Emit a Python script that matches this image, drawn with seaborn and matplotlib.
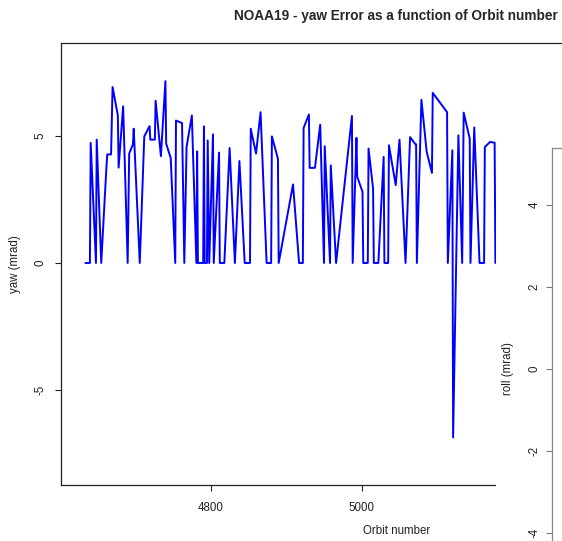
import numpy as np
import pandas as pd
import matplotlib
matplotlib.use("Agg")
import matplotlib.pyplot as plt
import seaborn as sns

# data

orbit = [4634, 4640, 4641, 4648, 4649, 4655, 4662, 4663, 4668, 4670,
         4677, 4678, 4684, 4690, 4692, 4697, 4698, 4706, 4712, 4719,
         4720, 4726, 4727, 4734, 4740, 4741, 4747, 4753, 4754, 4762,
         4765, 4768, 4775, 4781, 4782, 4783, 4790, 4791, 4792, 4795,
         4796, 4798, 4803, 4804, 4811, 4812, 4818, 4825, 4832, 4838,
         4845, 4852, 4853, 4860, 4866, 4874, 4880, 4881, 4889, 4890,
         4909, 4917, 4922, 4923, 4930, 4931, 4938, 4945, 4950, 4951,
         4958, 4959, 4966, 4987, 4988, 4993, 4994, 5001, 5002, 5008,
         5009, 5015, 5016, 5022, 5029, 5030, 5035, 5036, 5045, 5050,
         5058, 5064, 5071, 5072, 5073, 5079, 5086, 5093, 5094, 5113,
         5114, 5120, 5121, 5128, 5133, 5135, 5143, 5144, 5149, 5156,
         5162, 5163, 5170, 5176, 5177]

yaw = [0, 0, 4.72, 0, 4.85, 0, 3.84, 4.27, 4.27, 6.92,
       5.80, 3.75, 6.16, 0, 4.30, 4.67, 5.28, 0, 4.98, 5.38,
       4.85, 4.85, 6.38, 4.20, 7.15, 4.69, 4.13, 0, 5.60, 5.50,
       0, 4.56, 5.80, 0, 4.39, 0, 0, 5.37, 0, 0,
       4.82, 0, 5.06, 0, 4.34, 0, 0, 4.52, 0, 4.01,
       0, 0, 5.28, 4.30, 5.93, 0, 0, 4.98, 4.10, 0,
       3.09, 0, 0, 5.31, 5.84, 3.74, 3.74, 5.44, 0, 4.59,
       0, 3.84, 0, 5.78, 0, 4.92, 3.39, 2.80, 0, 0,
       4.50, 2.93, 0, 0, 4.17, 0, 0, 4.63, 3.06, 4.85,
       0, 4.95, 4.67, 4.67, 0, 6.42, 4.37, 3.54, 6.69, 5.93,
       0, 4.43, -6.86, 5.02, 0, 5.91, 4.89, 0, 5.33, 0,
       0, 4.56, 4.76, 4.73, 0]

x_ticks = [4800, 5000]
yaw_ticks = [-5, 0, 5]
roll_ticks = [-4, -2, 0, 2, 4]

df = pd.DataFrame({'orbit': orbit, 'yaw': yaw})

sns.set_style("white")
plt.rcParams['font.family'] = ['Liberation Sans', 'DejaVu Sans']

W, H = 562, 541
fig = plt.figure(figsize=(W / 100, H / 100), dpi=100)

# main yaw panel (wider than the picture, right part is cut off)
ax = fig.add_axes([61 / W, (H - 485) / H, (734 - 61) / W, (485 - 43) / H])
sns.lineplot(data=df, x='orbit', y='yaw', ax=ax, color='#0000ff',
             linewidth=1.4, estimator=None, sort=False)
ax.set_xlim(4601.7, 5493)
ax.set_ylim(-8.73, 8.65)
ax.set_xticks(x_ticks)
ax.set_xticklabels([str(t) for t in x_ticks])
ax.set_yticks(yaw_ticks)
ax.set_yticklabels([str(t) for t in yaw_ticks], rotation=90, va='center')
ax.set_xlabel('')
ax.set_ylabel('')
ax.tick_params(axis='both', direction='out', length=4.3, width=0.8,
               color='#222222', labelsize=8.3, labelcolor='#222222')
ax.tick_params(axis='x', pad=8)
ax.tick_params(axis='y', pad=6)
ax.tick_params(left=True, bottom=True)
for s in ax.spines.values():
    s.set_color('#222222')
    s.set_linewidth(0.9)

# white panel of the next plot lying over the right side
cover = fig.add_axes([496 / W, 0, (W - 496) / W, (H - 145) / H])
cover.set_facecolor('white')
cover.set_xticks([])
cover.set_yticks([])
for s in cover.spines.values():
    s.set_visible(False)
cover.set_zorder(2)

# roll panel, only its left edge is visible
rax = fig.add_axes([552 / W, (H - 590) / H, (900 - 552) / W, (590 - 148) / H])
rax.set_facecolor('none')
rax.set_ylim(-5.39, 5.39)
rax.set_xticks([])
rax.set_yticks(roll_ticks)
rax.set_yticklabels([str(t) for t in roll_ticks], rotation=90, va='center')
rax.tick_params(axis='y', direction='out', length=4.3, width=0.8,
                color='#777777', labelsize=8.3, labelcolor='#222222', pad=4)
rax.tick_params(left=True)
for s in rax.spines.values():
    s.set_color('#888888')
    s.set_linewidth(0.9)
rax.set_zorder(3)

fig.text(396 / W, 1 - 16 / H, 'NOAA19 - yaw Error as a function of Orbit number',
         ha='center', va='center', fontsize=9.8, fontweight='bold')
fig.text(397 / W, 1 - 531 / H, 'Orbit number', ha='center', va='center',
         fontsize=8.3, color='#222222')
fig.text(15 / W, 1 - 264 / H, 'yaw (mrad)', ha='center', va='center',
         rotation=90, fontsize=8.3, color='#222222')
fig.text(508 / W, 1 - 369 / H, 'roll (mrad)', ha='center', va='center',
         rotation=90, fontsize=8.3, color='#222222', zorder=5)

fig.savefig('out.png', dpi=100)
